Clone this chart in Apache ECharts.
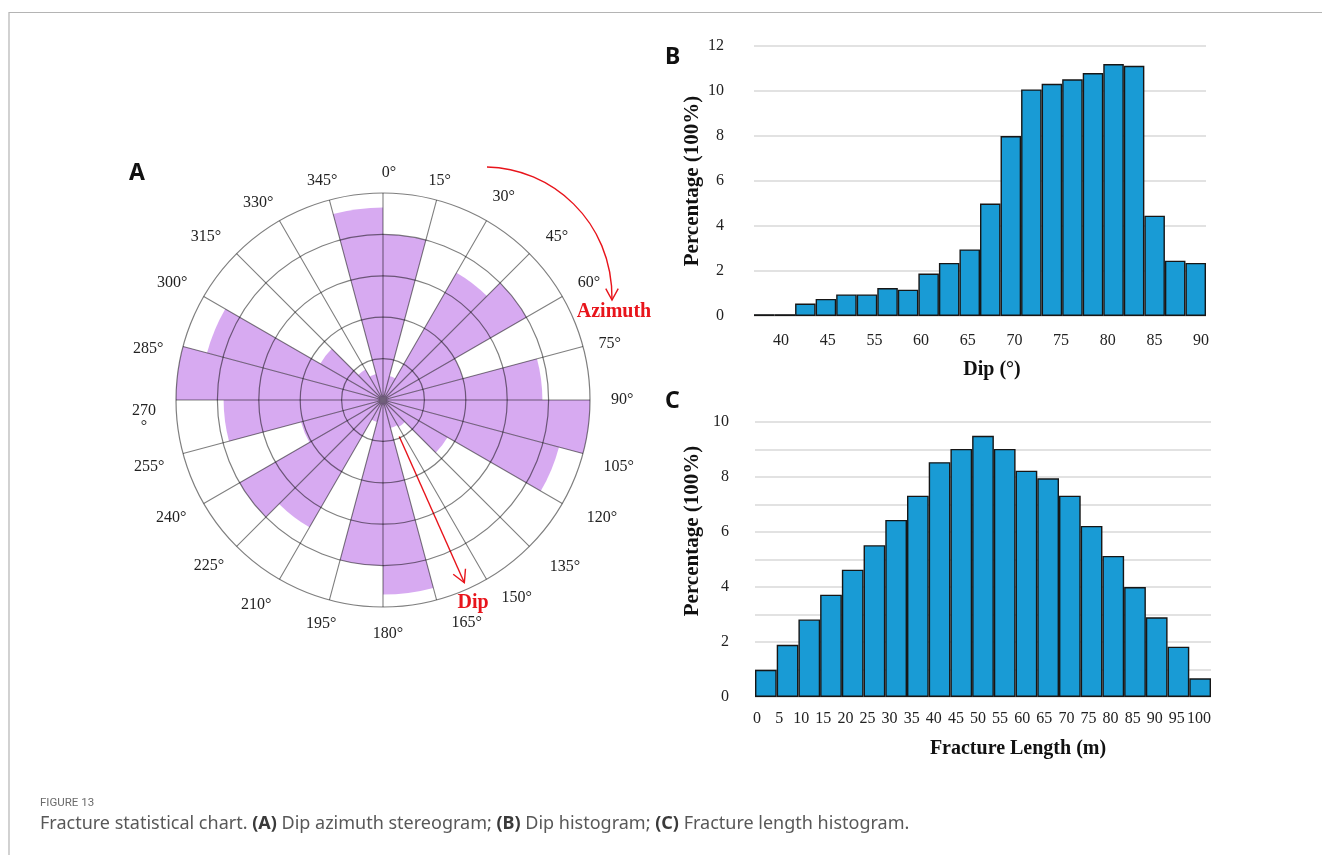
<!DOCTYPE html>
<html>
<head>
<meta charset="utf-8">
<script src="https://cdn.jsdelivr.net/npm/echarts@6/dist/echarts.min.js"></script>
<style>
  html, body { margin: 0; padding: 0; background: #ffffff; }
  #chart { width: 1322px; height: 855px; }
</style>
</head>
<body>
<div id="chart"></div>
<script>
// ---- (A) dip azimuth rose: 24 bins of 15 degrees, clockwise from north ----
const azimuthBins = [
  '0-15', '15-30', '30-45', '45-60', '60-75', '75-90',
  '90-105', '105-120', '120-135', '135-150', '150-165', '165-180',
  '180-195', '195-210', '210-225', '225-240', '240-255', '255-270',
  '270-285', '285-300', '300-315', '315-330', '330-345', '345-360'
];
const azimuthFreq = [
  4.0, 0.6, 3.55, 4.0, 2.0, 3.85,
  5.0, 4.4, 1.8, 0.75, 0.7, 4.7,
  4.0, 0.55, 3.55, 4.0, 2.05, 3.85,
  5.0, 4.4, 1.75, 0.85, 0.65, 4.65
];

// ---- (B) dip histogram ----
const dipBins = [
  'd01', 'd02', 'd03', 'd04', 'd05', 'd06', 'd07', 'd08', 'd09', 'd10', 'd11',
  'd12', 'd13', 'd14', 'd15', 'd16', 'd17', 'd18', 'd19', 'd20', 'd21', 'd22'
];
const dipPercent = [
  0.08, 0.08, 0.55, 0.76, 0.96, 0.96, 1.24, 1.17, 1.89, 2.36, 2.96,
  5.0, 8.0, 10.07, 10.32, 10.52, 10.8, 11.2, 11.12, 4.46, 2.46, 2.36
];
const dipTickLabels = ['40', '45', '55', '60', '65', '70', '75', '80', '85', '90'];

// ---- (C) fracture length histogram ----
const lengthBins = [
  '0-5', '5-10', '10-15', '15-20', '20-25', '25-30', '30-35', '35-40', '40-45', '45-50',
  '50-55', '55-60', '60-65', '65-70', '70-75', '75-80', '80-85', '85-90', '90-95', '95-100', '100+'
];
const lengthPercent = [
  0.99, 1.9, 2.82, 3.72, 4.63, 5.52, 6.44, 7.32, 8.54, 9.02,
  9.5, 9.02, 8.23, 7.95, 7.32, 6.22, 5.13, 4.0, 2.9, 1.83, 0.68
];
const lengthTickLabels = [
  '0', '5', '10', '15', '20', '25', '30', '35', '40', '45', '50',
  '55', '60', '65', '70', '75', '80', '85', '90', '95', '100'
];

const SERIF = '"Liberation Serif", "Times New Roman", serif';
const SANS = '"Noto Sans", "Open Sans", sans-serif';
const ROSE_C = [383, 400];
const ROSE_R = 207;
const RED = '#e8141b';
const BAR_BLUE = '#199bd5';
const GRID_GRAY = '#d9d9d9';
const ROSE_LINE = 'rgba(0,0,0,0.5)';

// per-bearing nudges for the compass labels (padding: top, right, bottom, left)
const bearingLabelPad = {
  0: [0, 0, 0, 12], 30: [0, 0, 6, 0], 45: [0, 0, 0, 8], 60: [0, 0, 0, 5],
  75: [0, 0, 0, 4], 90: [0, 0, 0, 9], 105: [20, 0, 0, 9],
  120: [0, 0, 0, 14], 135: [4, 0, 0, 12], 150: [0, 0, 0, 9],
  165: [3, 0, 0, 54], 180: [7, 0, 0, 10], 195: [4, 10, 0, 0],
  210: [7, 2, 0, 0], 225: [3, 4, 0, 0], 240: [0, 7, 0, 0], 255: [20, 7, 0, 0],
  285: [10, 8, 0, 0], 300: [0, 6, 0, 0], 315: [0, 7, 0, 0], 345: [0, 8, 0, 0]
};
const bearingFont = { fontFamily: SERIF, fontSize: 16, color: '#222' };
const bearingRich = {
  n: Object.assign({ padding: [38, 8, 0, 0] }, bearingFont),
  d: Object.assign({ padding: [0, 8, 0, 0], align: 'center' }, bearingFont)
};
Object.keys(bearingLabelPad).forEach(k => {
  bearingRich['p' + k] = Object.assign({ padding: bearingLabelPad[k] }, bearingFont);
});
function bearingLabel(v) {
  if (v === 270) return '{n|270}\n{d|°}';
  if (bearingLabelPad[v]) return '{p' + v + '|' + v + '°}';
  return v + '°';
}

// open V arrow head at a tip, given the travel direction
function arrowHead(tip, dir, len, spread) {
  const back = [-dir[0], -dir[1]];
  const rot = (v, a) => [v[0] * Math.cos(a) - v[1] * Math.sin(a), v[0] * Math.sin(a) + v[1] * Math.cos(a)];
  const a = rot(back, spread), b = rot(back, -spread);
  return [[tip[0] + a[0] * len, tip[1] + a[1] * len], tip, [tip[0] + b[0] * len, tip[1] + b[1] * len]];
}

// compass bearing (deg, clockwise from north) to page point around the rose centre
function bearingPoint(deg, r) {
  const t = deg * Math.PI / 180;
  return [ROSE_C[0] + r * Math.sin(t), ROSE_C[1] - r * Math.cos(t)];
}

const dipDir = [Math.sin(156 * Math.PI / 180), -Math.cos(156 * Math.PI / 180)];
const dipStart = bearingPoint(156, 40);
const dipEnd = bearingPoint(156, 200);
const aziTip = [612, 300];

const chart = echarts.init(document.getElementById('chart'), null, { renderer: 'canvas' });

const histLabel = { fontFamily: SERIF, fontSize: 16, color: '#222' };

chart.setOption({
  animation: false,
  backgroundColor: '#ffffff',
  polar: [
    { center: ROSE_C, radius: ROSE_R },
    { center: ROSE_C, radius: ROSE_R }
  ],
  angleAxis: [
    {
      polarIndex: 0, type: 'category', data: azimuthBins,
      startAngle: 90, clockwise: true, boundaryGap: true,
      axisLine: { show: false }, axisTick: { show: false },
      axisLabel: { show: false }, splitLine: { show: false }
    },
    {
      polarIndex: 1, type: 'value', min: 0, max: 360, interval: 15,
      startAngle: 90, clockwise: true, z: 10,
      axisLine: { show: false }, axisTick: { show: false },
      axisLabel: Object.assign({ margin: 12, formatter: bearingLabel, rich: bearingRich }, bearingFont),
      splitLine: { show: true, lineStyle: { color: ROSE_LINE, width: 1.1 } }
    }
  ],
  radiusAxis: [
    {
      polarIndex: 0, type: 'value', min: 0, max: 5,
      axisLine: { show: false }, axisTick: { show: false },
      axisLabel: { show: false }, splitLine: { show: false }
    },
    {
      polarIndex: 1, type: 'value', min: 0, max: 5, interval: 1, z: 10,
      axisLine: { show: false }, axisTick: { show: false },
      axisLabel: { show: false },
      splitLine: { show: true, lineStyle: { color: ROSE_LINE, width: 1.2 } }
    }
  ],
  grid: [
    { left: 754, top: 46, width: 452, height: 270 },
    { left: 757.7, top: 46, width: 466.7, height: 270 },
    { left: 755, top: 422, width: 456, height: 275 },
    { left: 746, top: 422, width: 464, height: 275 }
  ],
  xAxis: [
    {
      gridIndex: 0, type: 'category', data: dipBins,
      axisLine: { show: false }, axisTick: { show: false }, axisLabel: { show: false }
    },
    {
      gridIndex: 1, type: 'category', data: dipTickLabels,
      axisLine: { show: false }, axisTick: { show: false },
      axisLabel: Object.assign({ margin: 17, interval: 0 }, histLabel)
    },
    {
      gridIndex: 2, type: 'category', data: lengthBins,
      axisLine: { show: false }, axisTick: { show: false }, axisLabel: { show: false }
    },
    {
      gridIndex: 3, type: 'category', data: lengthTickLabels,
      axisLine: { show: false }, axisTick: { show: false },
      axisLabel: Object.assign({ margin: 14, interval: 0 }, histLabel)
    }
  ],
  yAxis: [
    {
      gridIndex: 0, type: 'value', min: 0, max: 12, interval: 2,
      axisLine: { show: false }, axisTick: { show: false },
      axisLabel: Object.assign({ margin: 30 }, histLabel),
      splitLine: { show: true, lineStyle: { color: GRID_GRAY, width: 1.5 } }
    },
    { gridIndex: 1, type: 'value', show: false },
    {
      gridIndex: 2, type: 'value', min: 0, max: 10, interval: 1,
      axisLine: { show: false }, axisTick: { show: false },
      axisLabel: Object.assign({ margin: 26, formatter: v => (v % 2 === 0 ? String(v) : '') }, histLabel),
      splitLine: { show: true, lineStyle: { color: GRID_GRAY, width: 1.5 } }
    },
    { gridIndex: 3, type: 'value', show: false }
  ],
  series: [
    {
      name: 'Dip azimuth', type: 'bar', coordinateSystem: 'polar', polarIndex: 0,
      data: azimuthFreq, barCategoryGap: '0%', z: 2,
      itemStyle: { color: '#d7aaf1' }
    },
    {
      name: 'Dip', type: 'bar', xAxisIndex: 0, yAxisIndex: 0,
      data: dipPercent, barCategoryGap: '0%',
      itemStyle: { color: BAR_BLUE, borderColor: '#161616', borderWidth: 1.4 }
    },
    {
      name: 'Fracture length', type: 'bar', xAxisIndex: 2, yAxisIndex: 2,
      data: lengthPercent, barCategoryGap: '0%',
      itemStyle: { color: BAR_BLUE, borderColor: '#161616', borderWidth: 1.4 }
    }
  ],
  graphic: [
    // page frame
    { type: 'polyline', silent: true, shape: { points: [[9, 855], [9, 12.5], [1322, 12.5]] },
      style: { stroke: '#b4b4b4', lineWidth: 1.2, fill: null } },

    // panel letters
    { type: 'text', x: 129, y: 162, style: { text: 'A', fontFamily: SANS, fontWeight: 'bold', fontSize: 23, fill: '#111' } },
    { type: 'text', x: 665, y: 46, style: { text: 'B', fontFamily: SANS, fontWeight: 'bold', fontSize: 23, fill: '#111' } },
    { type: 'text', x: 665, y: 390, style: { text: 'C', fontFamily: SANS, fontWeight: 'bold', fontSize: 23, fill: '#111' } },

    // azimuth arrow
    { type: 'bezierCurve', silent: true,
      shape: { x1: 487, y1: 167, cpx1: 550, cpy1: 168, cpx2: 613, cpy2: 220, x2: aziTip[0], y2: aziTip[1] },
      style: { stroke: RED, lineWidth: 1.4, fill: null } },
    { type: 'polyline', silent: true, shape: { points: arrowHead(aziTip, [0, 1], 13, 0.5) },
      style: { stroke: RED, lineWidth: 1.4, fill: null } },
    { type: 'text', x: 614, y: 312, style: { text: 'Azimuth', fontFamily: SERIF, fontWeight: 'bold', fontSize: 20,
      fill: RED, align: 'center', verticalAlign: 'middle' } },

    // dip arrow
    { type: 'line', silent: true,
      shape: { x1: dipStart[0], y1: dipStart[1], x2: dipEnd[0], y2: dipEnd[1] },
      style: { stroke: RED, lineWidth: 1.4 } },
    { type: 'polyline', silent: true, shape: { points: arrowHead(dipEnd, dipDir, 14, 0.5) },
      style: { stroke: RED, lineWidth: 1.4, fill: null } },
    { type: 'text', x: 473, y: 603, style: { text: 'Dip', fontFamily: SERIF, fontWeight: 'bold', fontSize: 20,
      fill: RED, align: 'center', verticalAlign: 'middle' } },

    // histogram axis titles
    { type: 'text', x: 693, y: 181, rotation: Math.PI / 2,
      style: { text: 'Percentage (100%)', fontFamily: SERIF, fontWeight: 'bold', fontSize: 21, fill: '#111',
        align: 'center', verticalAlign: 'middle' } },
    { type: 'text', x: 992, y: 370,
      style: { text: 'Dip (°)', fontFamily: SERIF, fontWeight: 'bold', fontSize: 20, fill: '#111',
        align: 'center', verticalAlign: 'middle' } },
    { type: 'text', x: 693, y: 531, rotation: Math.PI / 2,
      style: { text: 'Percentage (100%)', fontFamily: SERIF, fontWeight: 'bold', fontSize: 21, fill: '#111',
        align: 'center', verticalAlign: 'middle' } },
    { type: 'text', x: 1018, y: 749,
      style: { text: 'Fracture Length (m)', fontFamily: SERIF, fontWeight: 'bold', fontSize: 20, fill: '#111',
        align: 'center', verticalAlign: 'middle' } },

    // caption
    { type: 'text', x: 40, y: 803,
      style: { text: 'FIGURE 13', fontFamily: 'Roboto, "Noto Sans", sans-serif', fontSize: 11.5, fill: '#6b6b6b', verticalAlign: 'middle' } },
    { type: 'text', x: 40, y: 824,
      style: {
        text: 'Fracture statistical chart. {b|(A)} Dip azimuth stereogram; {b|(B)} Dip histogram; {b|(C)} Fracture length histogram.',
        fontFamily: SANS, fontSize: 18, fill: '#585858', verticalAlign: 'middle',
        rich: { b: { fontFamily: SANS, fontSize: 18, fontWeight: 'bold', fill: '#3a3a3a' } }
      } }
  ]
});
</script>
</body>
</html>
